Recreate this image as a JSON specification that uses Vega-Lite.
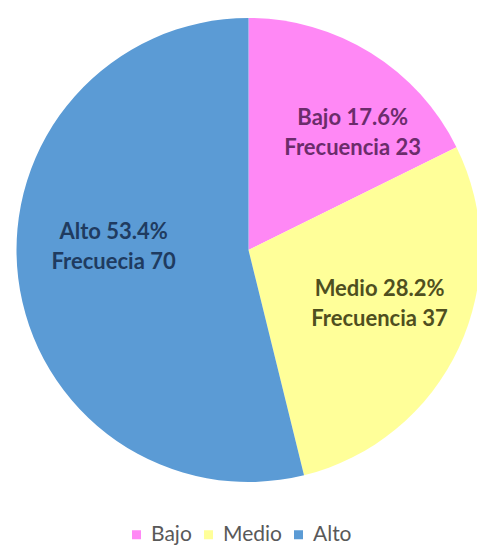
{
  "$schema": "https://vega.github.io/schema/vega-lite/v6.json",
  "width": 477,
  "height": 500,
  "autosize": {"type": "none"},
  "padding": {"left": 10, "top": 0, "right": -10, "bottom": 46},
  "background": "white",
  "data": {
    "values": [
      {"cat": "Bajo", "n": 23, "orden": 1, "label": "Bajo 17.6%\nFrecuencia  23"},
      {"cat": "Medio", "n": 37, "orden": 2, "label": "Medio 28.2%\nFrecuencia 37"},
      {"cat": "Alto", "n": 70, "orden": 3, "label": "Alto 53.4%\nFrecuecia 70"}
    ]
  },
  "encoding": {
    "theta": {"field": "n", "type": "quantitative", "stack": true},
    "order": {"field": "orden", "type": "quantitative"}
  },
  "layer": [
    {
      "mark": {"type": "arc", "radius": 232, "stroke": null},
      "encoding": {
        "color": {
          "field": "cat",
          "type": "nominal",
          "sort": ["Bajo", "Medio", "Alto"],
          "scale": {"domain": ["Bajo", "Medio", "Alto"], "range": ["#FF88F5", "#FFFF99", "#5B9BD5"]},
          "legend": {
            "title": null,
            "orient": "none",
            "direction": "horizontal",
            "legendX": 116,
            "legendY": 524,
            "symbolType": "square",
            "symbolSize": 81,
            "symbolStrokeWidth": 0,
            "labelFont": "Lato",
            "labelFontSize": 21,
            "labelColor": "#595959",
            "labelOffset": 4,
            "columnPadding": 6,
            "padding": 0
          }
        }
      }
    },
    {
      "mark": {"type": "text", "radius": 150, "dx": 25, "dy": -5, "font": "Lato", "fontWeight": "bold", "fontSize": 22, "lineBreak": "\n", "lineHeight": 30, "align": "center", "baseline": "middle", "color": "#6B2C6B"},
      "encoding": {
        "detail": {"field": "cat", "type": "nominal"},
        "text": {"condition": {"test": "datum.cat == 'Bajo'", "field": "label"}, "value": ""}
      }
    },
    {
      "mark": {"type": "text", "radius": 150, "dx": -5, "dy": -24, "font": "Lato", "fontWeight": "bold", "fontSize": 22, "lineBreak": "\n", "lineHeight": 30, "align": "center", "baseline": "middle", "color": "#4F4F1F"},
      "encoding": {
        "detail": {"field": "cat", "type": "nominal"},
        "text": {"condition": {"test": "datum.cat == 'Medio'", "field": "label"}, "value": ""}
      }
    },
    {
      "mark": {"type": "text", "radius": 150, "dx": 14, "dy": -36, "font": "Lato", "fontWeight": "bold", "fontSize": 22, "lineBreak": "\n", "lineHeight": 30, "align": "center", "baseline": "middle", "color": "#1F3B60"},
      "encoding": {
        "detail": {"field": "cat", "type": "nominal"},
        "text": {"condition": {"test": "datum.cat == 'Alto'", "field": "label"}, "value": ""}
      }
    }
  ],
  "config": {"view": {"stroke": null}}
}
